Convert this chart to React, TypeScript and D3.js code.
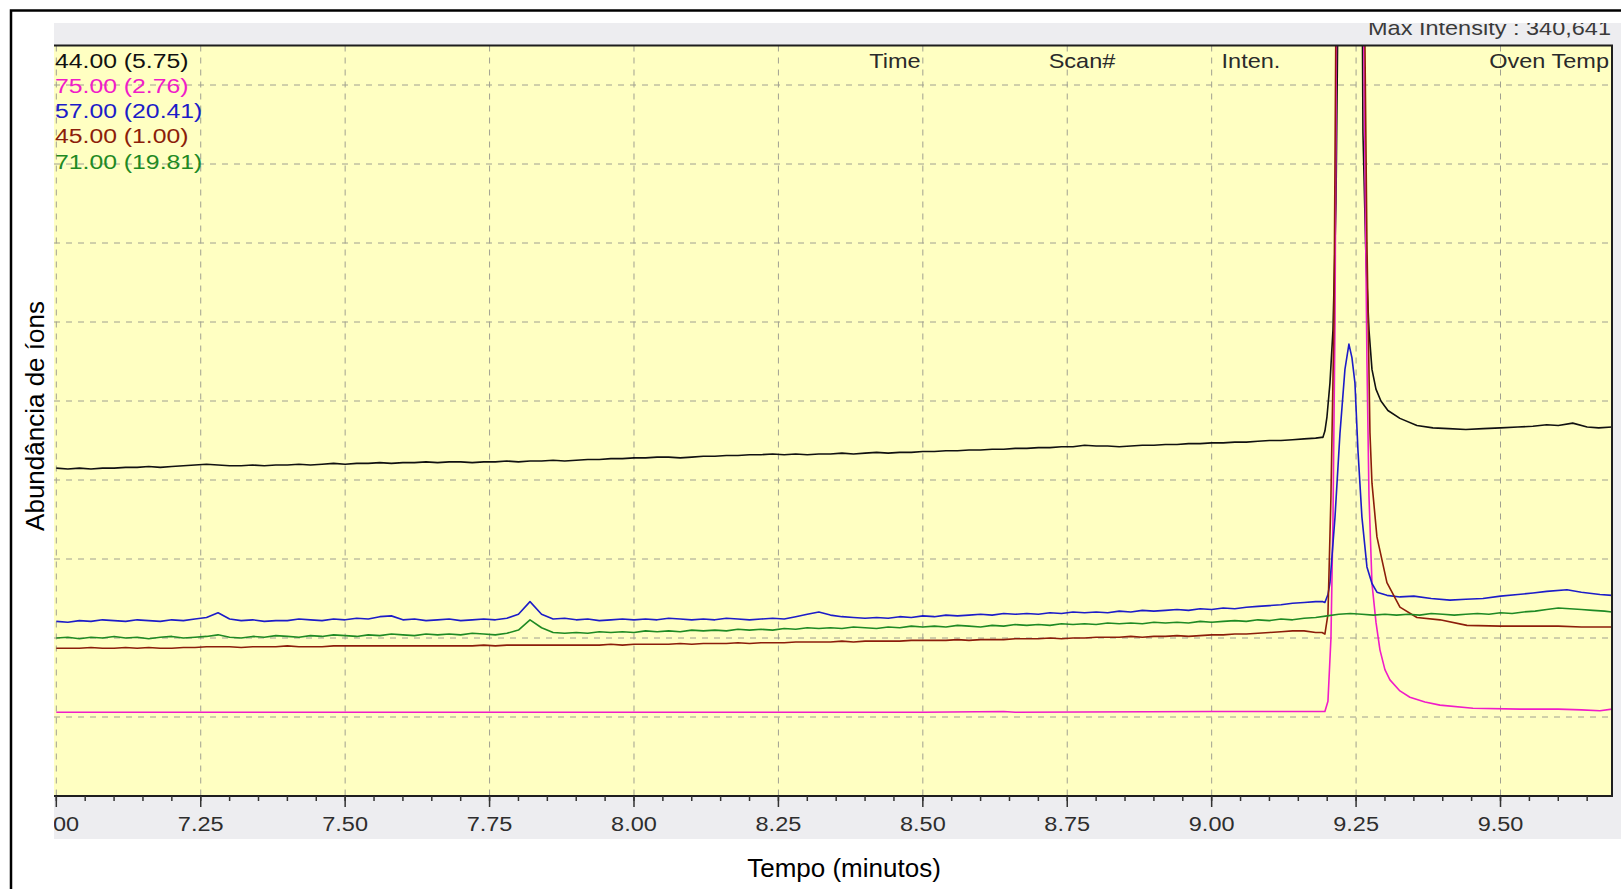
import React from "react";
import * as d3 from "d3";

// Ion chromatogram (GC-MS, m/z traces) between 7.0 and 9.7 min.
// Intensities are expressed in grid units of the plot (0 at the axis, 9.5 at the top edge).

// Scan times of the baseline region (min)
const scanTimes = [
  7.0, 7.02, 7.04, 7.06, 7.08, 7.1, 7.12, 7.14, 7.16, 7.18, 7.2, 7.22, 7.24, 7.26, 7.28, 7.3, 7.32, 7.34, 7.36, 7.38,
  7.4, 7.42, 7.44, 7.46, 7.48, 7.5, 7.52, 7.54, 7.56, 7.58, 7.6, 7.62, 7.64, 7.66, 7.68, 7.7, 7.72, 7.74, 7.76, 7.78,
  7.8, 7.82, 7.84, 7.86, 7.88, 7.9, 7.92, 7.94, 7.96, 7.98, 8.0, 8.02, 8.04, 8.06, 8.08, 8.1, 8.12, 8.14, 8.16, 8.18,
  8.2, 8.22, 8.24, 8.26, 8.28, 8.3, 8.32, 8.34, 8.36, 8.38, 8.4, 8.42, 8.44, 8.46, 8.48, 8.5, 8.52, 8.54, 8.56, 8.58,
  8.6, 8.62, 8.64, 8.66, 8.68, 8.7, 8.72, 8.74, 8.76, 8.78, 8.8, 8.82, 8.84, 8.86, 8.88, 8.9, 8.92, 8.94, 8.96, 8.98,
  9.0, 9.02, 9.04, 9.06, 9.08, 9.1, 9.12, 9.14, 9.16, 9.18,
];

// m/z 44 baseline
const ion44Base = [
  4.15, 4.14, 4.15, 4.14, 4.15, 4.15, 4.16, 4.16, 4.17, 4.16, 4.17, 4.18, 4.19, 4.2, 4.19, 4.18, 4.18, 4.19, 4.18, 4.19,
  4.19, 4.2, 4.19, 4.2, 4.21, 4.2, 4.21, 4.21, 4.22, 4.21, 4.22, 4.22, 4.23, 4.22, 4.23, 4.23, 4.22, 4.23, 4.23, 4.24,
  4.23, 4.24, 4.24, 4.25, 4.24, 4.25, 4.26, 4.26, 4.27, 4.27, 4.28, 4.28, 4.29, 4.29, 4.28, 4.29, 4.3, 4.3, 4.31, 4.31,
  4.32, 4.32, 4.33, 4.32, 4.33, 4.32, 4.33, 4.33, 4.34, 4.33, 4.34, 4.35, 4.34, 4.35, 4.35, 4.36, 4.36, 4.37, 4.37, 4.38,
  4.38, 4.39, 4.39, 4.4, 4.4, 4.41, 4.41, 4.42, 4.42, 4.44, 4.43, 4.43, 4.42, 4.43, 4.44, 4.44, 4.45, 4.45, 4.46, 4.46,
  4.47, 4.47, 4.48, 4.48, 4.49, 4.5, 4.5, 4.51, 4.52, 4.53,
];

// m/z 57 baseline
const ion57Base = [
  2.21, 2.2, 2.22, 2.21, 2.23, 2.22, 2.21, 2.23, 2.22, 2.21, 2.23, 2.22, 2.24, 2.26, 2.32, 2.24, 2.22, 2.23, 2.21, 2.22,
  2.22, 2.24, 2.23, 2.22, 2.24, 2.23, 2.25, 2.24, 2.27, 2.28, 2.23, 2.24, 2.22, 2.23, 2.24, 2.22, 2.23, 2.24, 2.23, 2.25,
  2.3, 2.46, 2.3, 2.24, 2.25, 2.23, 2.24, 2.22, 2.23, 2.24, 2.23, 2.24, 2.23, 2.25, 2.24, 2.23, 2.24, 2.23, 2.25, 2.24,
  2.23, 2.24, 2.25, 2.24, 2.27, 2.3, 2.33, 2.29, 2.27, 2.26, 2.25, 2.26, 2.25, 2.27, 2.26, 2.28, 2.27, 2.29, 2.28, 2.29,
  2.3, 2.29, 2.31, 2.3, 2.31, 2.3, 2.32, 2.31, 2.33, 2.32, 2.33, 2.32, 2.34, 2.33, 2.35, 2.34, 2.35, 2.36, 2.35, 2.37,
  2.36, 2.38, 2.37, 2.39, 2.4, 2.41, 2.42, 2.44, 2.45, 2.46,
];

// m/z 71 baseline
const ion71Base = [
  2.0, 2.01, 1.99, 2.01, 2.0, 2.02, 2.0, 2.01, 1.99, 2.01, 2.02, 2.0, 2.01, 2.02, 2.04, 2.01, 2.0, 2.02, 2.01, 2.03,
  2.02, 2.01, 2.03, 2.02, 2.04, 2.03, 2.02, 2.04, 2.03, 2.05, 2.04, 2.03, 2.05, 2.04, 2.05, 2.04, 2.06, 2.05, 2.04, 2.06,
  2.1, 2.23, 2.13, 2.07, 2.06, 2.07, 2.06, 2.08, 2.07, 2.08, 2.07, 2.09, 2.08, 2.09, 2.08, 2.1, 2.09, 2.1, 2.09, 2.11,
  2.1, 2.11, 2.1, 2.12, 2.11, 2.13, 2.12, 2.13, 2.12, 2.14, 2.13, 2.12, 2.14, 2.13, 2.15, 2.14, 2.15, 2.14, 2.16, 2.15,
  2.14, 2.16, 2.15, 2.17, 2.16, 2.17, 2.16, 2.18, 2.17, 2.18, 2.17, 2.19, 2.18, 2.19, 2.18, 2.2, 2.19, 2.2, 2.19, 2.21,
  2.2, 2.21, 2.22, 2.21, 2.23, 2.22, 2.24, 2.23, 2.25, 2.26,
];

// m/z 45 baseline
const ion45Base = [
  1.87, 1.87, 1.87, 1.88, 1.87, 1.87, 1.88, 1.87, 1.88, 1.87, 1.87, 1.88, 1.88, 1.89, 1.89, 1.89, 1.88, 1.89, 1.89, 1.89,
  1.9, 1.89, 1.89, 1.89, 1.9, 1.9, 1.9, 1.9, 1.9, 1.9, 1.9, 1.9, 1.9, 1.9, 1.9, 1.9, 1.9, 1.91, 1.9, 1.91,
  1.91, 1.91, 1.91, 1.91, 1.91, 1.91, 1.91, 1.91, 1.92, 1.91, 1.92, 1.92, 1.92, 1.92, 1.93, 1.92, 1.93, 1.93, 1.93, 1.94,
  1.93, 1.94, 1.94, 1.94, 1.95, 1.95, 1.95, 1.95, 1.96, 1.95, 1.96, 1.96, 1.96, 1.96, 1.97, 1.97, 1.97, 1.97, 1.98, 1.97,
  1.98, 1.98, 1.98, 1.99, 1.99, 1.99, 2.0, 1.99, 2.0, 2.0, 2.01, 2.01, 2.01, 2.02, 2.01, 2.02, 2.02, 2.03, 2.02, 2.03,
  2.04, 2.04, 2.05, 2.05, 2.06, 2.07, 2.08, 2.09, 2.09, 2.07,
];

// m/z 75 baseline (nearly flat)
const ion75Base: [number, number][] = [
  [7.0, 1.06], [7.5, 1.06], [8.0, 1.06], [8.5, 1.06], [8.64, 1.07], [8.66, 1.06], [9.0, 1.07], [9.18, 1.07],
];

// Peak region and tail, [time, intensity]
const ion44Peak: [number, number][] = [
  [9.19, 4.54], [9.1926, 4.54], [9.196, 4.62], [9.1996, 4.8], [9.2048, 5.23], [9.21, 5.9], [9.2152, 7.5],
  [9.2186, 10], [9.2221, 14], [9.235, 18], [9.245, 17], [9.2584, 13], [9.2619, 8.4], [9.2671, 6.8], [9.2723, 5.9],
  [9.2775, 5.4], [9.2844, 5.15], [9.293, 5.0], [9.3051, 4.88], [9.3259, 4.78], [9.3553, 4.69], [9.383, 4.66],
  [9.41, 4.65], [9.44, 4.64], [9.47, 4.65], [9.5, 4.66], [9.53, 4.67], [9.556, 4.68], [9.58, 4.7], [9.6, 4.69],
  [9.625, 4.72], [9.65, 4.67], [9.67, 4.66], [9.693, 4.67],
];

const ion75Peak: [number, number][] = [
  [9.196, 1.07], [9.2013, 1.2], [9.2065, 2.0], [9.21, 3.5], [9.2135, 6.0], [9.2169, 11], [9.2221, 16], [9.235, 20],
  [9.25, 19], [9.2601, 12], [9.2653, 8], [9.2688, 5.5], [9.2723, 3.8], [9.2775, 2.69], [9.2844, 2.2], [9.2913, 1.85],
  [9.2999, 1.6], [9.3086, 1.47], [9.3259, 1.33], [9.3432, 1.25], [9.3692, 1.19], [9.3952, 1.15], [9.4523, 1.11],
  [9.5337, 1.1], [9.6, 1.1], [9.64, 1.09], [9.6722, 1.08], [9.693, 1.1],
];

const ion57Peak: [number, number][] = [
  [9.1926, 2.46], [9.196, 2.45], [9.2013, 2.55], [9.2048, 2.7], [9.2135, 3.53], [9.2221, 4.59], [9.2307, 5.4],
  [9.2376, 5.72], [9.2428, 5.55], [9.248, 5.23], [9.2532, 4.38], [9.2601, 3.53], [9.2688, 2.9], [9.2775, 2.69],
  [9.2861, 2.58], [9.3034, 2.54], [9.3259, 2.52], [9.35, 2.53], [9.38, 2.5], [9.4125, 2.48], [9.44, 2.49],
  [9.4696, 2.5], [9.5, 2.53], [9.53, 2.55], [9.5562, 2.57], [9.58, 2.59], [9.615, 2.61], [9.64, 2.58],
  [9.6722, 2.55], [9.693, 2.54],
];

const ion45Peak: [number, number][] = [
  [9.191, 2.07], [9.196, 2.05], [9.2013, 2.3], [9.2065, 3.8], [9.2117, 6], [9.2152, 10], [9.2221, 15], [9.235, 19],
  [9.25, 18], [9.2619, 12], [9.2688, 7], [9.274, 4.6], [9.2775, 3.96], [9.2861, 3.28], [9.3034, 2.7], [9.3259, 2.39],
  [9.3553, 2.26], [9.3952, 2.23], [9.4419, 2.16], [9.5, 2.15], [9.55, 2.15], [9.6, 2.15], [9.64, 2.14],
  [9.6722, 2.14], [9.693, 2.14],
];

const ion71Peak: [number, number][] = [
  [9.2, 2.28], [9.22, 2.3], [9.24, 2.31], [9.26, 2.3], [9.28, 2.29], [9.3, 2.3], [9.32, 2.29], [9.34, 2.3],
  [9.36, 2.29], [9.38, 2.31], [9.4, 2.3], [9.42, 2.29], [9.44, 2.3], [9.46, 2.31], [9.48, 2.3], [9.5, 2.32],
  [9.52, 2.31], [9.54, 2.33], [9.56, 2.34], [9.58, 2.36], [9.6, 2.38], [9.62, 2.37], [9.64, 2.36], [9.66, 2.35],
  [9.68, 2.34], [9.693, 2.33],
];

// Legend entries: m/z (scale factor)
const legendLabels = ["44.00 (5.75)", "75.00 (2.76)", "57.00 (20.41)", "45.00 (1.00)", "71.00 (19.81)"];
const seriesColors = ["#111111", "#f01cc8", "#1c1cc8", "#8c1e0a", "#1f8a24"];

const majorTicks = [7.0, 7.25, 7.5, 7.75, 8.0, 8.25, 8.5, 8.75, 9.0, 9.25, 9.5];
const majorTickLabels = ["7.00", "7.25", "7.50", "7.75", "8.00", "8.25", "8.50", "8.75", "9.00", "9.25", "9.50"];
const gridLevels = [1, 2, 3, 4, 5, 6, 7, 8, 9];
const headerLabels = ["Time", "Scan#", "Inten."];
const headerCenters = [895, 1082, 1251];

const pairs = (vals: number[]): [number, number][] => scanTimes.map((t, i) => [t, vals[i]]);

const FONT = "'Liberation Sans', Arial, sans-serif";

export default function App() {
  const W = 1621;
  const H = 889;
  const plot = { left: 54, right: 1612, top: 45.5, bottom: 796 };

  const x = d3.scaleLinear().domain([6.996, 9.693]).range([plot.left, plot.right]);
  const y = d3.scaleLinear().domain([0, 9.5]).range([plot.bottom, plot.top]);
  const line = d3
    .line<[number, number]>()
    .x((d) => x(d[0]))
    .y((d) => y(d[1]));

  const series: { color: string; data: [number, number][] }[] = [
    { color: seriesColors[0], data: [...pairs(ion44Base), ...ion44Peak] },
    { color: seriesColors[1], data: [...ion75Base, ...ion75Peak] },
    { color: seriesColors[2], data: [...pairs(ion57Base), ...ion57Peak] },
    { color: seriesColors[3], data: [...pairs(ion45Base), ...ion45Peak] },
    { color: seriesColors[4], data: [...pairs(ion71Base), ...ion71Peak] },
  ];

  const minorTicks = d3.range(7.0, 9.69, 0.05);
  const textScale = 1.12;

  return (
    <svg
      width={W}
      height={H}
      style={{ position: "absolute", left: 0, top: 0, background: "#fff" }}
      fontFamily={FONT}
    >
      <defs>
        <clipPath id="plotClip">
          <rect x={plot.left} y={plot.top} width={plot.right - plot.left} height={plot.bottom - plot.top} />
        </clipPath>
        <clipPath id="panelClip">
          <rect x={plot.left} y={23} width={W - plot.left} height={839 - 23} />
        </clipPath>
      </defs>

      <rect width={W} height={H} fill="#fff" />

      {/* instrument window */}
      <rect x={plot.left} y={23} width={W - plot.left} height={839 - 23} fill="#ededf0" />
      <rect
        x={plot.left}
        y={plot.top}
        width={plot.right - plot.left}
        height={plot.bottom - plot.top}
        fill="#ffffc2"
      />

      {/* grid */}
      <g stroke="#a0a090" strokeWidth={1} strokeDasharray="6 6">
        {gridLevels.map((v) => (
          <line key={"h" + v} x1={plot.left} x2={plot.right} y1={y(v)} y2={y(v)} />
        ))}
        {majorTicks.map((t) => (
          <line key={"v" + t} x1={x(t)} x2={x(t)} y1={plot.top} y2={plot.bottom} />
        ))}
      </g>

      {/* traces */}
      <g clipPath="url(#plotClip)" fill="none" strokeWidth={1.6} strokeLinejoin="round">
        {series.map((s, i) => (
          <path key={i} d={line(s.data) ?? ""} stroke={s.color} />
        ))}
      </g>

      {/* frame of the plot */}
      <g stroke="#1e1e1e" strokeWidth={2}>
        <line x1={plot.left} x2={plot.right + 1} y1={plot.top} y2={plot.top} />
        <line x1={plot.right} x2={plot.right} y1={plot.top} y2={plot.bottom} />
        <line x1={plot.left} x2={plot.right + 1} y1={plot.bottom} y2={plot.bottom} />
      </g>

      {/* x axis ticks */}
      <g stroke="#333" strokeWidth={1.5}>
        {majorTicks.map((t) => (
          <line key={"M" + t} x1={x(t)} x2={x(t)} y1={plot.bottom} y2={plot.bottom + 11} />
        ))}
        {minorTicks.map((t, i) => (
          <line key={"m" + i} x1={x(t)} x2={x(t)} y1={plot.bottom} y2={plot.bottom + 5} />
        ))}
      </g>
      <g clipPath="url(#panelClip)" fill="#2e2e2e" fontSize={21}>
        {majorTicks.map((t, i) => (
          <text key={"l" + t} transform={`translate(${x(t)},830.5) scale(${textScale},1)`} textAnchor="middle">
            {majorTickLabels[i]}
          </text>
        ))}
      </g>

      {/* legend of traces */}
      <g fontSize={21}>
        {legendLabels.map((lab, i) => (
          <text
            key={lab}
            transform={`translate(55,${67.5 + i * 25.3}) scale(${textScale + 0.06},1)`}
            fill={seriesColors[i]}
          >
            {lab}
          </text>
        ))}
      </g>

      {/* column header */}
      <g fontSize={21} fill="#2a2a2a">
        {headerLabels.map((h, i) => (
          <text key={h} transform={`translate(${headerCenters[i]},67.5) scale(${textScale},1)`} textAnchor="middle">
            {h}
          </text>
        ))}
        <text transform={`translate(1609,67.5) scale(${textScale},1)`} textAnchor="end">
          Oven Temp
        </text>
      </g>
      <g clipPath="url(#panelClip)">
        <text
          transform={`translate(1611,35) scale(${textScale},1)`}
          textAnchor="end"
          fontSize={21}
          fill="#3a3a3a"
        >
          Max Intensity : 340,641
        </text>
      </g>

      {/* axis titles */}
      <text x={844} y={868} textAnchor="middle" dominantBaseline="central" fontSize={26} fill="#000">
        Tempo (minutos)
      </text>
      <text
        transform="translate(35,416) rotate(-90)"
        textAnchor="middle"
        dominantBaseline="central"
        fontSize={26}
        fill="#000"
      >
        Abundância de íons
      </text>

      {/* outer border */}
      <rect x={11} y={10.5} width={W} height={H} fill="none" stroke="#000" strokeWidth={2.5} />
    </svg>
  );
}
